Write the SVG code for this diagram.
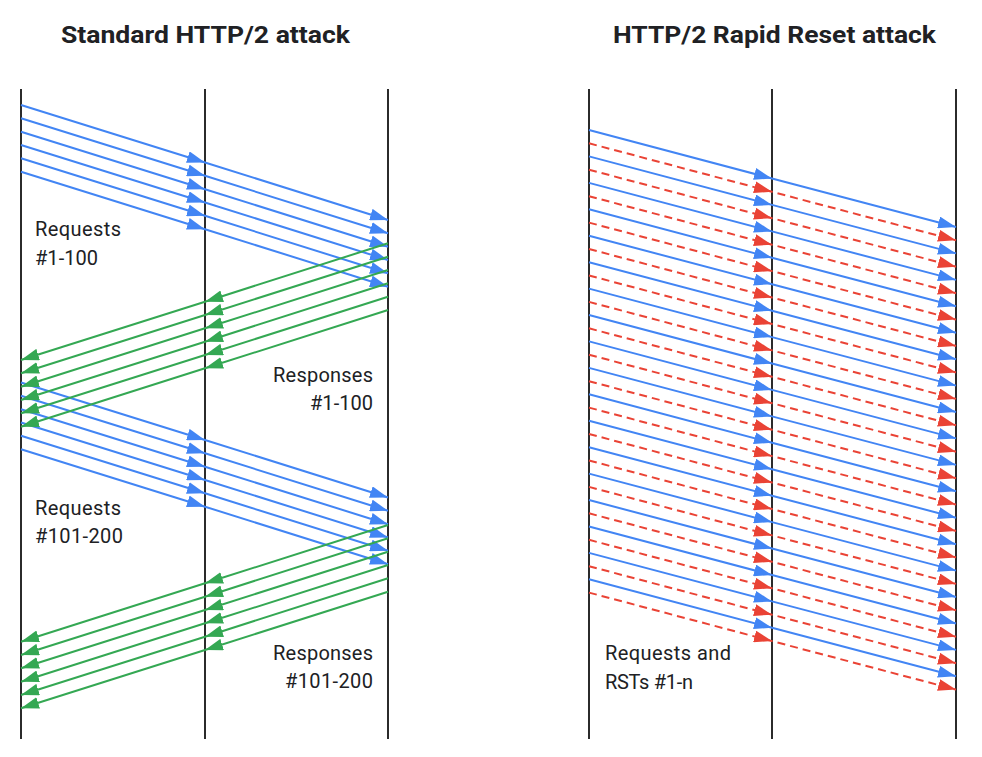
<svg xmlns="http://www.w3.org/2000/svg" width="982" height="757" viewBox="0 0 982 757">
<style>
  .title{font-family:Roboto,"Liberation Sans",sans-serif;font-weight:700;font-size:24px;fill:#202124;text-anchor:middle}
  .lbl{font-family:Roboto,"Liberation Sans",sans-serif;font-size:20px;fill:#202124}
  .r{text-anchor:end}
  .life{stroke:#2b2b2b;stroke-width:2;fill:none}
  .blue{stroke:#4285F4;stroke-width:2;fill:none;marker-mid:url(#ab);marker-end:url(#ab)}
  .green{stroke:#34A853;stroke-width:2;fill:none;marker-mid:url(#ag);marker-end:url(#ag)}
  .red{stroke:#EA4335;stroke-width:2;fill:none;stroke-dasharray:8 5;marker-mid:url(#ar);marker-end:url(#ar)}
</style>
<defs>
  <marker id="ab" viewBox="0 0 18 12" refX="18" refY="6" markerWidth="18" markerHeight="12" markerUnits="userSpaceOnUse" orient="auto"><path d="M0,0 L18,6 L0,12 z" fill="#4285F4"/></marker>
  <marker id="ag" viewBox="0 0 18 12" refX="18" refY="6" markerWidth="18" markerHeight="12" markerUnits="userSpaceOnUse" orient="auto"><path d="M0,0 L18,6 L0,12 z" fill="#34A853"/></marker>
  <marker id="ar" viewBox="0 0 18 12" refX="18" refY="6" markerWidth="18" markerHeight="12" markerUnits="userSpaceOnUse" orient="auto"><path d="M0,0 L18,6 L0,12 z" fill="#EA4335"/></marker>
</defs>
<rect width="982" height="757" fill="#ffffff"/>
<text class="title" x="205.5" y="43" textLength="289" lengthAdjust="spacingAndGlyphs">Standard HTTP/2 attack</text>
<text class="title" x="774.5" y="43" textLength="323" lengthAdjust="spacingAndGlyphs">HTTP/2 Rapid Reset attack</text>
<g id="lifeline-l1"><line class="life" x1="21" y1="89" x2="21" y2="739"/></g>
<g id="lifeline-l2"><line class="life" x1="205" y1="89" x2="205" y2="739"/></g>
<g id="lifeline-l3"><line class="life" x1="388" y1="89" x2="388" y2="739"/></g>
<g id="lifeline-r1"><line class="life" x1="589" y1="89" x2="589" y2="739"/></g>
<g id="lifeline-r2"><line class="life" x1="772" y1="89" x2="772" y2="739"/></g>
<g id="lifeline-r3"><line class="life" x1="956" y1="89" x2="956" y2="739"/></g>
<g id="connectors">
  <path class="blue" d="M21 105 L205 162.5 L388 220"/>
  <path class="blue" d="M21 118.3 L205 175.8 L388 233.3"/>
  <path class="blue" d="M21 131.7 L205 189.2 L388 246.7"/>
  <path class="blue" d="M21 145 L205 202.5 L388 260"/>
  <path class="blue" d="M21 158.3 L205 215.8 L388 273.3"/>
  <path class="blue" d="M21 171.7 L205 229.2 L388 286.7"/>
  <path class="blue" d="M21 382.5 L205 440 L388 497.5"/>
  <path class="blue" d="M21 395.8 L205 453.3 L388 510.8"/>
  <path class="blue" d="M21 409.2 L205 466.7 L388 524.2"/>
  <path class="blue" d="M21 422.5 L205 480 L388 537.5"/>
  <path class="blue" d="M21 435.8 L205 493.3 L388 550.8"/>
  <path class="blue" d="M21 449.2 L205 506.7 L388 564.2"/>
  <path class="green" d="M388 243.3 L205 301.7 L21 360"/>
  <path class="green" d="M388 256.7 L205 315 L21 373.3"/>
  <path class="green" d="M388 270 L205 328.3 L21 386.7"/>
  <path class="green" d="M388 283.3 L205 341.7 L21 400"/>
  <path class="green" d="M388 296.7 L205 355 L21 413.3"/>
  <path class="green" d="M388 310 L205 368.3 L21 426.7"/>
  <path class="green" d="M388 525 L205 583.3 L21 641.7"/>
  <path class="green" d="M388 538.3 L205 596.7 L21 655"/>
  <path class="green" d="M388 551.7 L205 610 L21 668.3"/>
  <path class="green" d="M388 565 L205 623.3 L21 681.7"/>
  <path class="green" d="M388 578.3 L205 636.7 L21 695"/>
  <path class="green" d="M388 591.7 L205 650 L21 708.3"/>

  <path class="blue" d="M589 130 L772 178.5 L956 227"/>
  <path class="red" d="M589 143.3 L772 191.8 L956 240.3"/>
  <path class="blue" d="M589 156.4 L772 204.9 L956 253.4"/>
  <path class="red" d="M589 169.7 L772 218.2 L956 266.7"/>
  <path class="blue" d="M589 182.9 L772 231.4 L956 279.9"/>
  <path class="red" d="M589 196.2 L772 244.7 L956 293.2"/>
  <path class="blue" d="M589 209.3 L772 257.8 L956 306.3"/>
  <path class="red" d="M589 222.6 L772 271.1 L956 319.6"/>
  <path class="blue" d="M589 235.7 L772 284.2 L956 332.7"/>
  <path class="red" d="M589 249 L772 297.5 L956 346"/>
  <path class="blue" d="M589 262.2 L772 310.7 L956 359.2"/>
  <path class="red" d="M589 275.5 L772 324 L956 372.5"/>
  <path class="blue" d="M589 288.6 L772 337.1 L956 385.6"/>
  <path class="red" d="M589 301.9 L772 350.4 L956 398.9"/>
  <path class="blue" d="M589 315 L772 363.5 L956 412"/>
  <path class="red" d="M589 328.3 L772 376.8 L956 425.3"/>
  <path class="blue" d="M589 341.4 L772 389.9 L956 438.4"/>
  <path class="red" d="M589 354.7 L772 403.2 L956 451.7"/>
  <path class="blue" d="M589 367.9 L772 416.4 L956 464.9"/>
  <path class="red" d="M589 381.2 L772 429.7 L956 478.2"/>
  <path class="blue" d="M589 394.3 L772 442.8 L956 491.3"/>
  <path class="red" d="M589 407.6 L772 456.1 L956 504.6"/>
  <path class="blue" d="M589 420.7 L772 469.2 L956 517.7"/>
  <path class="red" d="M589 434 L772 482.5 L956 531"/>
  <path class="blue" d="M589 447.2 L772 495.7 L956 544.2"/>
  <path class="red" d="M589 460.5 L772 509 L956 557.5"/>
  <path class="blue" d="M589 473.6 L772 522.1 L956 570.6"/>
  <path class="red" d="M589 486.9 L772 535.4 L956 583.9"/>
  <path class="blue" d="M589 500 L772 548.5 L956 597"/>
  <path class="red" d="M589 513.3 L772 561.8 L956 610.3"/>
  <path class="blue" d="M589 526.5 L772 575 L956 623.5"/>
  <path class="red" d="M589 539.8 L772 588.3 L956 636.8"/>
  <path class="blue" d="M589 552.9 L772 601.4 L956 649.9"/>
  <path class="red" d="M589 566.2 L772 614.7 L956 663.2"/>
  <path class="blue" d="M589 579.3 L772 627.8 L956 676.3"/>
  <path class="red" d="M589 592.6 L772 641.1 L956 689.6"/>
</g>
<g id="label-req1"><text class="lbl" x="35" y="236" textLength="86">Requests</text><text class="lbl" x="35" y="265" textLength="63">#1-100</text></g>
<g id="label-resp1"><text class="lbl r" x="373" y="382" textLength="100">Responses</text><text class="lbl r" x="373" y="410" textLength="63">#1-100</text></g>
<g id="label-req2"><text class="lbl" x="35" y="515" textLength="86">Requests</text><text class="lbl" x="35" y="543" textLength="88">#101-200</text></g>
<g id="label-resp2"><text class="lbl r" x="373" y="660" textLength="100">Responses</text><text class="lbl r" x="373" y="688" textLength="88">#101-200</text></g>
<g id="label-rst"><text class="lbl" x="605" y="660" textLength="126">Requests and</text><text class="lbl" x="605" y="689" textLength="88">RSTs #1-n</text></g>
</svg>
